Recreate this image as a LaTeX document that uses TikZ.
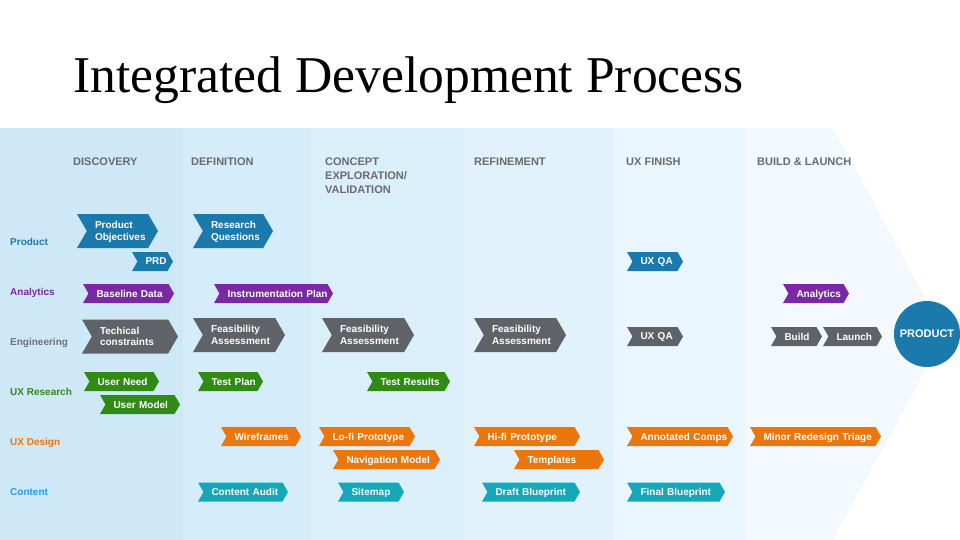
\documentclass[tikz,border=0pt]{standalone}
\usepackage{fontspec}
\setmainfont{Liberation Serif}
\setsansfont{Liberation Sans}
\usetikzlibrary{shapes.symbols}

\hyphenpenalty=10000
\exhyphenpenalty=10000

\definecolor{band1}{HTML}{CEE8F8}
\definecolor{band2}{HTML}{D5ECFA}
\definecolor{band3}{HTML}{DBEFFB}
\definecolor{band4}{HTML}{E2F2FC}
\definecolor{band5}{HTML}{EAF6FD}
\definecolor{band6}{HTML}{F3F9FE}
\definecolor{phasegray}{HTML}{6B6B6B}
\definecolor{prodblue}{HTML}{1A7AAB}
\definecolor{anlpurple}{HTML}{7B28A4}
\definecolor{enggray}{HTML}{5F6267}
\definecolor{englabel}{HTML}{6B7178}
\definecolor{resgreen}{HTML}{2F8B13}
\definecolor{desorange}{HTML}{EA760C}
\definecolor{contteal}{HTML}{16A8B9}
\definecolor{contlabel}{HTML}{1E9EE6}

\tikzset{
  chev/.style={signal, signal from=west, signal to=east, signal pointer angle=120,
    text=white, font=\sffamily\bfseries\fontsize{10}{11.5}\selectfont, align=left,
    inner xsep=1pt, inner ysep=1pt},
  chevs/.style={chev, minimum height=19pt, text depth=0pt},
  chevl/.style={chev, minimum height=34pt, text depth=11.5pt},
  rowlabel/.style={anchor=base west, inner sep=0pt,
    font=\sffamily\bfseries\fontsize{10}{12}\selectfont},
  phase/.style={anchor=north west, align=left, inner sep=0pt, text=phasegray,
    font=\sffamily\bfseries\fontsize{11}{14}\selectfont}
}

\begin{document}
\begin{tikzpicture}[x=1pt, y=-1pt]
  \useasboundingbox (0,0) rectangle (960,540);

  % phase bands
  \fill[band1] (0,128) rectangle (183,540);
  \fill[band2] (183,128) rectangle (311,540);
  \fill[band3] (311,128) rectangle (463,540);
  \fill[band4] (463,128) rectangle (614,540);
  \fill[band5] (614,128) rectangle (745,540);
  \fill[band6] (745,128) -- (833,128) -- (945,334) -- (833,540) -- (745,540) -- cycle;

  \node[anchor=base west, inner sep=0pt, font=\fontsize{51.6}{60}\selectfont] (title) at (73,93) {Integrated Development Process};

  % phases
  \node[phase] (discovery) at (73,157.5) {DISCOVERY};
  \node[phase] (definition) at (191,157.5) {DEFINITION};
  \node[phase] (concept) at (325,157.5) {CONCEPT\\EXPLORATION/\\VALIDATION};
  \node[phase] (refinement) at (474,157.5) {REFINEMENT};
  \node[phase] (uxfinish) at (626,157.5) {UX FINISH};
  \node[phase] (buildlaunch) at (757,157.5) {BUILD \& LAUNCH};

  % rows
  \node[rowlabel, text=prodblue] (lproduct) at (10,245) {Product};
  \node[rowlabel, text=anlpurple] (lanalytics) at (10,295.5) {Analytics};
  \node[rowlabel, text=englabel] (lengineering) at (10,345) {Engineering};
  \node[rowlabel, text=resgreen] (lresearch) at (10,395) {UX Research};
  \node[rowlabel, text=desorange] (ldesign) at (10,445.5) {UX Design};
  \node[rowlabel, text=contlabel] (lcontent) at (10,495.5) {Content};

  % product
  \node[chevl, fill=prodblue, minimum width=81pt, text width=45pt] (pobj) at (117.5,231) {Product\\Objectives};
  \node[chevs, fill=prodblue, minimum width=41pt, text width=14pt] (prd) at (152.5,261.5) {PRD};
  \node[chevl, fill=prodblue, minimum width=80pt, text width=44pt] (resq) at (233,231) {Research\\Questions};
  \node[chevs, fill=prodblue, minimum width=56pt, text width=29pt] (prodqa) at (655,261.5) {UX~QA};

  % analytics
  \node[chevs, fill=anlpurple, minimum width=91pt, text width=64pt] (base) at (128.5,293.5) {Baseline~Data};
  \node[chevs, fill=anlpurple, minimum width=119pt, text width=92pt] (instr) at (273.5,293.5) {Instrumentation~Plan};
  \node[chevs, fill=anlpurple, minimum width=66pt, text width=39pt] (anl) at (816,293.5) {Analytics};

  % engineering
  \node[chevl, fill=enggray, minimum width=96pt, text width=60pt] (tech) at (130,336.5) {Techical\\constraints};
  \node[chevl, fill=enggray, minimum width=92pt, text width=56pt] (feas1) at (239,335) {Feasibility\\Assessment};
  \node[chevl, fill=enggray, minimum width=92pt, text width=56pt] (feas2) at (368,335) {Feasibility\\Assessment};
  \node[chevl, fill=enggray, minimum width=92pt, text width=56pt] (feas3) at (520,335) {Feasibility\\Assessment};
  \node[chevs, fill=enggray, minimum width=56pt, text width=29pt] (engqa) at (655,336.5) {UX~QA};
  \node[chevs, fill=enggray, minimum width=51pt, text width=24pt] (build) at (796.5,336.5) {Build};
  \node[chevs, fill=enggray, minimum width=59pt, text width=32pt] (launch) at (852.5,336.5) {Launch};

  % ux research
  \node[chevs, fill=resgreen, minimum width=75pt, text width=48pt] (uneed) at (121.5,381.5) {User~Need};
  \node[chevs, fill=resgreen, minimum width=80pt, text width=53pt] (umodel) at (140,404.5) {User~Model};
  \node[chevs, fill=resgreen, minimum width=65pt, text width=38pt] (tplan) at (230.5,381.5) {Test~Plan};
  \node[chevs, fill=resgreen, minimum width=83pt, text width=56pt] (tres) at (408.5,381.5) {Test~Results};

  % ux design
  \node[chevs, fill=desorange, minimum width=80pt, text width=53pt] (wire) at (261,436.5) {Wireframes};
  \node[chevs, fill=desorange, minimum width=96pt, text width=69pt] (lofi) at (367,436.5) {\mbox{Lo-fi}~Prototype};
  \node[chevs, fill=desorange, minimum width=107pt, text width=80pt] (nav) at (386.5,459.5) {Navigation~Model};
  \node[chevs, fill=desorange, minimum width=106pt, text width=79pt] (hifi) at (527,436.5) {\mbox{Hi-fi}~Prototype};
  \node[chevs, fill=desorange, minimum width=90pt, text width=63pt] (templ) at (559,459.5) {Templates};
  \node[chevs, fill=desorange, minimum width=106pt, text width=79pt] (annot) at (680,436.5) {Annotated~Comps};
  \node[chevs, fill=desorange, minimum width=131pt, text width=104pt] (minor) at (815.5,436.5) {Minor~Redesign~Triage};

  % content
  \node[chevs, fill=contteal, minimum width=90pt, text width=63pt] (caudit) at (243,492) {Content~Audit};
  \node[chevs, fill=contteal, minimum width=66pt, text width=39pt] (site) at (371,492) {Sitemap};
  \node[chevs, fill=contteal, minimum width=98pt, text width=71pt] (draft) at (531,492) {Draft~Blueprint};
  \node[chevs, fill=contteal, minimum width=98pt, text width=71pt] (final) at (676,492) {Final~Blueprint};

  \node[circle, fill=prodblue, minimum size=66pt, inner sep=0pt, text=white,
    font=\sffamily\bfseries\fontsize{11}{13}\selectfont] (product) at (927,334) {PRODUCT};
\end{tikzpicture}
\end{document}
